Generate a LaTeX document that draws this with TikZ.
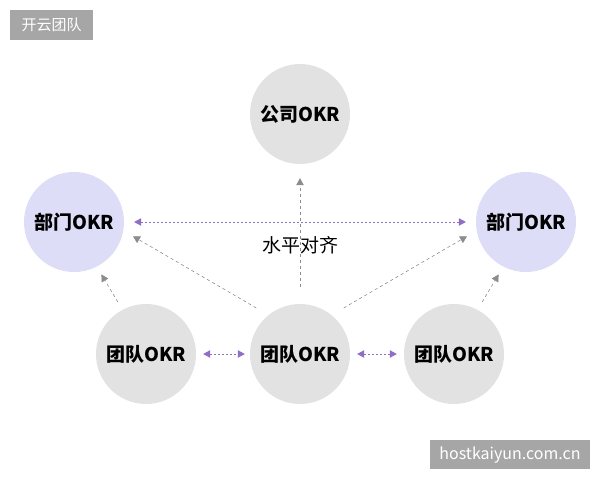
\documentclass[tikz,border=0pt]{standalone}
\usepackage{fontspec}
\setmainfont{Noto Sans CJK SC}
\usepackage{tikz}
\usetikzlibrary{arrows.meta}
\definecolor{circgray}{HTML}{E2E2E2}
\definecolor{circblue}{HTML}{DDDDF7}
\definecolor{arrgray}{HTML}{8C8C8C}
\definecolor{arrpurple}{HTML}{8F6EC6}
\definecolor{taggray}{HTML}{A6A6A6}

\begin{document}
\begin{tikzpicture}[x=1pt,y=-1pt,
                    okr/.style={circle,fill=circgray,minimum size=100pt,inner sep=0pt,
                                font=\fontsize{19}{22}\selectfont\bfseries},
                    dept/.style={okr,fill=circblue},
                    tag/.style={fill=taggray,text=white,inner sep=0pt,
                                font=\fontsize{15}{18}\selectfont},
                    up/.style={draw=arrgray,dash pattern=on 3pt off 3pt,semithick,
                               -{Triangle[length=7pt,width=7.5pt]}},
                    side/.style={draw=arrpurple,dash pattern=on 2pt off 2pt,semithick,
                                 {Triangle[length=7pt,width=7.5pt]}-{Triangle[length=7pt,width=7.5pt]}}]
  \useasboundingbox (0,0) rectangle (600,480);
  % the five OKR circles
  \node[okr] (company) at (300,114) {公司OKR};
  \node[dept] (ldept) at (74,222) {部门OKR};
  \node[dept] (rdept) at (526,222) {部门OKR};
  \node[okr] (lteam) at (146,354) {团队OKR};
  \node[okr] (mteam) at (300,354) {团队OKR};
  \node[okr] (rteam) at (454,354) {团队OKR};
  % upward alignment
  \draw[up,shorten <=17pt,shorten >=14pt] (mteam) -- (company);
  \draw[up,shorten <=14pt,shorten >=11pt] (mteam.129) -- (ldept.-10);
  \draw[up,shorten <=14pt,shorten >=11pt] (mteam.51) -- (rdept.190);
  \draw[up,shorten <=9pt,shorten >=9pt] (lteam.118) -- (ldept.-63);
  \draw[up,shorten <=9pt,shorten >=9pt] (rteam.62) -- (rdept.243);
  % horizontal alignment
  \draw[side,shorten <=10pt,shorten >=10pt] (ldept) -- (rdept);
  \draw[side,shorten <=7pt,shorten >=5pt] (lteam) -- (mteam);
  \draw[side,shorten <=7pt,shorten >=7pt] (mteam) -- (rteam);
  \node[font=\fontsize{19}{22}\selectfont] (align) at (300,245) {水平对齐};
  % watermarks
  \node[tag,minimum width=83pt,minimum height=30pt] (brand) at (51.5,24.5) {开云团队};
  \node[tag,minimum width=160pt,minimum height=29pt,font=\fontsize{16}{19}\selectfont]
    (site) at (510,454.5) {hostkaiyun.com.cn};
\end{tikzpicture}
\end{document}
